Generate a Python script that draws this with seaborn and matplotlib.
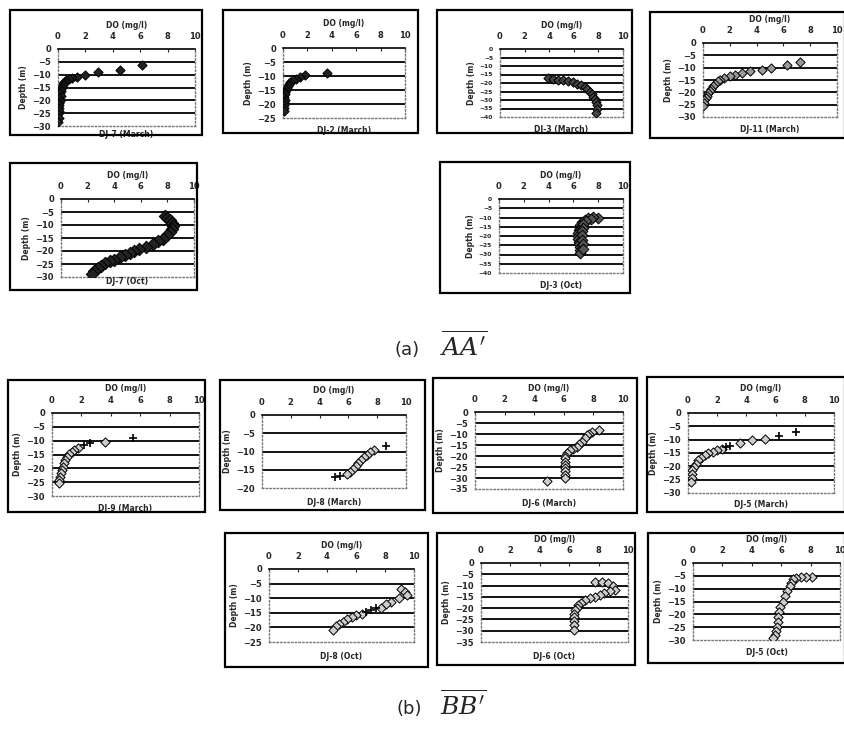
import numpy as np
import pandas as pd
import seaborn as sns
import matplotlib.pyplot as plt
from matplotlib.patches import Rectangle

sns.set_style("white")
plt.rcParams['font.family'] = ['DejaVu Sans']
plt.rcParams['mathtext.fontset'] = 'dejavuserif'

W, H = 845, 731

# ---- data (DO in mg/l, depth in m) ----
# (a) AA'
a1_do = [6.1, 4.5, 2.9, 2.0, 1.4, 1.0, 0.8, 0.6, 0.5, 0.4, 0.35, 0.3, 0.25, 0.2, 0.15, 0.2, 0.1, 0.15, 0.1, 0.05, 0.1, 0.05, 0.0, 0.05, 0.0]
a1_dep = [-6.4, -8.3, -9.1, -10.0, -10.8, -11.3, -11.8, -12.2, -12.8, -13.4, -14.0, -14.8, -15.6, -16.5, -17.3, -18.2, -19.2, -20.1, -21.0, -22.0, -23.0, -24.2, -25.5, -27.0, -28.5]

a2_do = [3.6, 1.8, 1.4, 1.1, 0.8, 0.6, 0.5, 0.4, 0.3, 0.25, 0.2, 0.15, 0.1, 0.15, 0.1, 0.05, 0.1, 0.05]
a2_dep = [-8.9, -9.8, -10.3, -11.0, -11.6, -12.3, -12.9, -13.6, -14.3, -15.0, -15.8, -16.6, -17.5, -18.4, -19.3, -20.3, -21.4, -22.5]

a3_do = [3.9, 4.3, 4.7, 5.1, 5.5, 5.9, 6.3, 6.6, 6.9, 7.1, 7.3, 7.5, 7.6, 7.7, 7.8, 7.9, 7.9, 7.8]
a3_dep = [-17.2, -17.6, -18.0, -18.5, -19.0, -19.5, -20.3, -21.2, -22.3, -23.5, -25.0, -26.5, -28.0, -29.5, -31.0, -33.0, -35.0, -37.5]

a4_do = [7.25, 6.25, 5.1, 4.4, 3.5, 2.9, 2.4, 2.0, 1.6, 1.3, 1.1, 0.9, 0.75, 0.6, 0.5, 0.4, 0.3, 0.2, 0.1, 0.05, 0.0]
a4_dep = [-7.8, -8.8, -10.1, -11.1, -11.5, -12.2, -12.8, -13.5, -14.2, -14.9, -15.5, -16.5, -17.6, -18.5, -19.4, -20.3, -21.3, -22.2, -23.0, -24.2, -25.4]

a5_do = [7.8, 8.0, 8.2, 8.35, 8.4, 8.35, 8.2, 8.0, 7.7, 7.3, 6.9, 6.4, 5.9, 5.5, 5.2, 4.8, 4.4, 4.0, 3.7, 3.3, 3.0, 2.8, 2.5, 2.3]
a5_dep = [-6.7, -7.3, -8.0, -9.2, -10.4, -11.5, -12.8, -14.0, -15.2, -16.3, -17.2, -18.3, -19.2, -20.0, -20.8, -21.6, -22.4, -23.3, -24.0, -24.8, -25.6, -26.5, -27.6, -28.8]

a6_do = [8.0, 7.6, 7.2, 6.9, 6.7, 6.55, 6.5, 6.45, 6.4, 6.4, 6.4, 6.45, 6.45, 6.5, 6.5, 6.5,
         7.4, 7.0, 6.8, 6.75, 6.7, 6.7, 6.7, 6.75, 6.8]
a6_dep = [-10.2, -9.8, -10.2, -11.2, -12.5, -14.0, -15.5, -17.0, -18.5, -20.0, -21.5, -23.0, -24.5, -26.0, -27.5, -29.0,
          -11.0, -12.0, -13.5, -15.5, -17.5, -19.5, -22.0, -24.5, -27.0]

# (b) BB'
b1_do = [3.6, 1.8, 1.5, 1.35, 1.15, 1.0, 0.9, 0.8, 0.75, 0.7, 0.6, 0.55, 0.5, 0.5]
b1_dep = [-10.4, -12.8, -13.5, -14.0, -14.9, -15.8, -17.0, -18.2, -19.4, -20.6, -21.8, -23.0, -24.2, -25.2]
b1_plus_do = [5.5, 2.6, 2.2]
b1_plus_dep = [-9.2, -11.0, -11.6]

b2_do = [7.75, 7.5, 7.3, 7.1, 6.9, 6.7, 6.5, 6.3, 6.1, 5.9]
b2_dep = [-9.5, -10.2, -10.9, -11.6, -12.3, -13.2, -14.1, -14.8, -15.5, -16.1]
b2_plus_do = [8.6, 5.4, 5.1]
b2_plus_dep = [-8.6, -16.8, -17.0]

b3_do = [8.35, 7.9, 7.7, 7.55, 7.4, 7.2, 7.0, 6.9, 6.6, 6.4, 6.2, 6.1, 6.1, 6.05, 6.05, 6.05, 6.05, 6.05, 6.1, 4.85]
b3_dep = [-8.3, -9.0, -9.8, -10.5, -12.0, -13.5, -14.7, -15.8, -16.6, -17.3, -18.8, -20.0, -21.0, -22.5, -24.0, -25.5, -27.0, -28.5, -30.0, -31.5]

b4_do = [5.25, 4.35, 3.55, 2.3, 2.0, 1.7, 1.4, 1.15, 0.9, 0.7, 0.55, 0.4, 0.3, 0.27, 0.25, 0.23]
b4_dep = [-9.7, -10.1, -11.1, -13.6, -14.0, -14.5, -15.0, -15.8, -16.8, -17.7, -19.0, -20.2, -21.5, -22.7, -24.3, -25.9]
b4_plus_do = [7.4, 6.2, 2.85, 2.6]
b4_plus_dep = [-7.3, -8.6, -12.4, -12.6]

b5_do = [9.1, 9.4, 9.5, 9.0, 8.4, 8.1, 7.75, 6.4, 6.0, 5.7, 5.4, 5.1, 4.85, 4.65, 4.4]
b5_dep = [-6.7, -7.8, -8.9, -10.1, -11.2, -12.0, -13.2, -15.3, -15.8, -16.4, -17.2, -18.1, -18.8, -19.6, -21.0]
b5_plus_do = [7.05, 7.4, 6.7]
b5_plus_dep = [-13.9, -13.5, -14.6]

b6_do = [7.75, 8.2, 8.65, 9.0, 9.1, 8.8, 8.4, 8.1, 7.75, 7.4, 7.05, 6.8, 6.6, 6.5, 6.4, 6.35, 6.3, 6.3, 6.3, 6.35]
b6_dep = [-8.2, -8.4, -9.0, -10.0, -11.9, -12.6, -13.4, -14.2, -14.9, -15.6, -16.4, -17.5, -18.7, -19.8, -20.9, -22.4, -23.9, -25.8, -27.6, -29.9]

b7_do = [8.1, 7.7, 7.35, 7.0, 6.8, 6.7, 6.6, 6.4, 6.25, 6.1, 5.9, 5.85, 5.8, 5.75, 5.7, 5.65, 5.6, 5.45]
b7_dep = [-5.5, -5.5, -5.5, -5.9, -6.3, -7.6, -9.1, -11.0, -13.0, -15.0, -17.0, -19.0, -20.9, -22.8, -24.8, -26.5, -28.0, -29.3]

x_ticks = [0, 2, 4, 6, 8, 10]


def px_rect(x0, y0, x1, y1):
    return [x0 / W, 1 - y1 / H, (x1 - x0) / W, (y1 - y0) / H]


def panel(fig, box, plot, do, dep, ymin, name, face="#222222", size=22,
          plus_do=None, plus_dep=None, small=False, name_off=3):
    fig.add_artist(Rectangle((box[0] / W, 1 - box[3] / H), (box[2] - box[0]) / W,
                             (box[3] - box[1]) / H, transform=fig.transFigure,
                             fill=False, lw=1.6, ec="black"))
    ax = fig.add_axes(px_rect(*plot))
    yt = list(range(0, ymin - 1, -5))
    for y in yt[1:-1]:
        ax.axhline(y, color="black", lw=1.3, zorder=1)
    df = pd.DataFrame({"do": do, "dep": dep})
    sns.scatterplot(data=df, x="do", y="dep", ax=ax, marker="D", s=size,
                    color=face, edgecolor="black", linewidth=0.7, zorder=3)
    if plus_do is not None:
        dp = pd.DataFrame({"do": plus_do, "dep": plus_dep})
        sns.scatterplot(data=dp, x="do", y="dep", ax=ax, marker="+", s=35,
                        color="black", linewidth=1.2, zorder=4)
    ax.set_xlim(0, 10)
    ax.set_ylim(ymin, 0)
    ax.set_xticks(x_ticks)
    ax.set_yticks(yt)
    ax.xaxis.tick_top()
    ax.xaxis.set_label_position("top")
    ax.tick_params(axis="x", direction="in", length=2, labelsize=6, pad=6)
    ax.tick_params(axis="y", length=0, labelsize=4.3 if small else 6, pad=5)
    for t in ax.get_xticklabels() + ax.get_yticklabels():
        t.set_fontweight("bold")
    ax.set_xlabel("DO (mg/l)", fontsize=5.5, fontweight="bold", labelpad=3)
    ax.set_ylabel("Depth (m)", fontsize=5.5, fontweight="bold", labelpad=3)
    ax.spines["top"].set_color("black")
    ax.spines["top"].set_linewidth(1.2)
    for s in ["left", "right", "bottom"]:
        ax.spines[s].set_color("#777777")
        ax.spines[s].set_linestyle(":")
        ax.spines[s].set_linewidth(1.0)
    ax.annotate(name, xy=(0.5, 0), xycoords="axes fraction", xytext=(0, -name_off),
                textcoords="offset points", ha="center", va="top",
                fontsize=5.5, fontweight="bold")
    return ax


fig = plt.figure(figsize=(W / 100, H / 100), dpi=100)

# (a)
panel(fig, (10, 10, 202, 135), (58, 49, 195, 126), a1_do, a1_dep, -30, "DJ-7 (March)")
panel(fig, (223, 10, 418, 133), (283, 48, 405, 118), a2_do, a2_dep, -25, "DJ-2 (March)", name_off=6)
panel(fig, (437, 10, 632, 133), (500, 49, 623, 117), a3_do, a3_dep, -40, "DJ-3 (March)",
      face="#444444", small=True, name_off=6)
panel(fig, (650, 12, 845, 138), (703, 43, 837, 117), a4_do, a4_dep, -30, "DJ-11 (March)",
      face="#999999", name_off=6)
panel(fig, (10, 163, 197, 290), (61, 199, 194, 277), a5_do, a5_dep, -30, "DJ-7 (Oct)",
      size=40, name_off=0)
panel(fig, (440, 162, 630, 293), (499, 199, 623, 273), a6_do, a6_dep, -40, "DJ-3 (Oct)",
      face="#555555", size=30, small=True, name_off=6)

# (b)
panel(fig, (8, 380, 205, 512), (52, 413, 199, 496), b1_do, b1_dep, -30, "DJ-9 (March)",
      face="#cccccc", plus_do=b1_plus_do, plus_dep=b1_plus_dep, name_off=6)
panel(fig, (220, 380, 425, 510), (262, 415, 406, 488), b2_do, b2_dep, -20, "DJ-8 (March)",
      face="#cccccc", plus_do=b2_plus_do, plus_dep=b2_plus_dep, name_off=7)
panel(fig, (433, 378, 637, 513), (475, 412, 623, 489), b3_do, b3_dep, -35, "DJ-6 (March)",
      face="#cccccc", name_off=7)
panel(fig, (647, 377, 845, 512), (688, 413, 834, 493), b4_do, b4_dep, -30, "DJ-5 (March)",
      face="#cccccc", plus_do=b4_plus_do, plus_dep=b4_plus_dep, name_off=5)
panel(fig, (225, 533, 428, 667), (269, 569, 414, 642), b5_do, b5_dep, -25, "DJ-8 (Oct)",
      face="#cccccc", plus_do=b5_plus_do, plus_dep=b5_plus_dep, name_off=7)
panel(fig, (437, 533, 635, 665), (481, 563, 628, 642), b6_do, b6_dep, -35, "DJ-6 (Oct)",
      face="#cccccc", name_off=7)
panel(fig, (648, 533, 845, 663), (693, 563, 840, 640), b7_do, b7_dep, -30, "DJ-5 (Oct)",
      face="#cccccc", name_off=6)

# captions
fig.text(395 / W, 1 - 350 / H, "(a)", fontsize=13, ha="left", va="center")
fig.text(440 / W, 1 - 346 / H, r"$\overline{AA^{\prime}}$", fontsize=18, ha="left", va="center")
fig.text(397 / W, 1 - 709 / H, "(b)", fontsize=13, ha="left", va="center")
fig.text(440 / W, 1 - 705 / H, r"$\overline{BB^{\prime}}$", fontsize=18, ha="left", va="center")

fig.savefig("out.png", dpi=100, facecolor="white")
